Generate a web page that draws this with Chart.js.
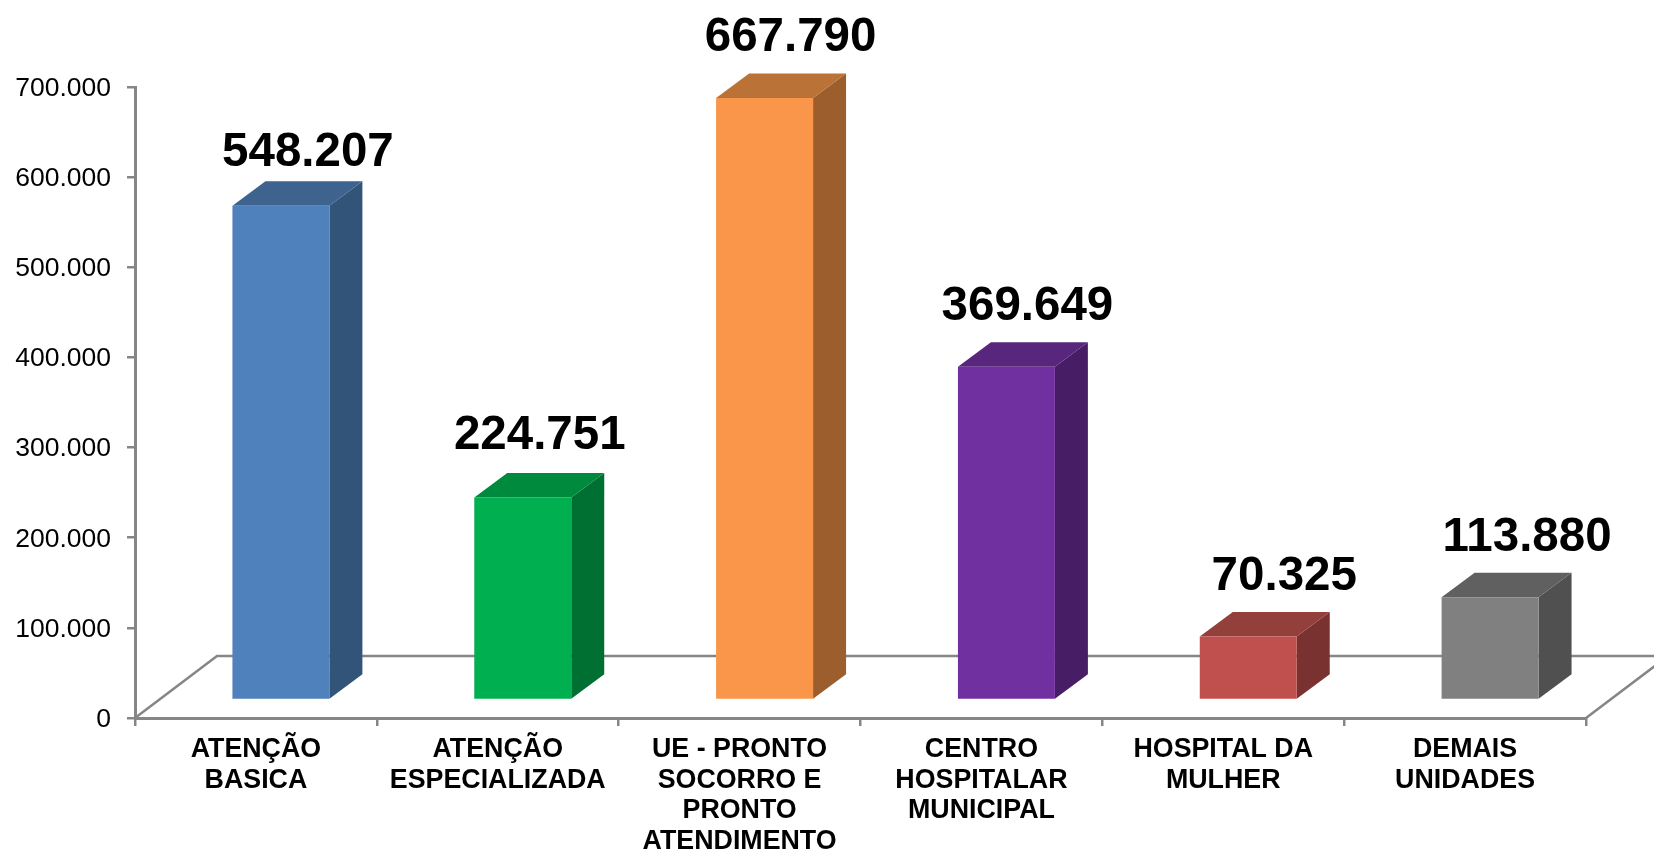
<!DOCTYPE html>
<html>
<head>
<meta charset="utf-8">
<style>
  html, body { margin: 0; padding: 0; background: #fff; }
  #wrap { width: 1654px; height: 853px; }
</style>
<script src="https://cdn.jsdelivr.net/npm/chart.js@4"></script>
</head>
<body>
<div id="wrap"><canvas id="chart"></canvas></div>
<script>
const categories = [
  ["ATENÇÃO", "BASICA"],
  ["ATENÇÃO", "ESPECIALIZADA"],
  ["UE - PRONTO", "SOCORRO E", "PRONTO", "ATENDIMENTO"],
  ["CENTRO", "HOSPITALAR", "MUNICIPAL"],
  ["HOSPITAL DA", "MULHER"],
  ["DEMAIS", "UNIDADES"]
];
const values = [548207, 224751, 667790, 369649, 70325, 113880];

// face colours of the 3D columns
const frontColors = ["#4F81BD", "#00B050", "#F9964A", "#7030A0", "#C0504D", "#808080"];
const sideColors = ["#325479", "#006F32", "#9C5E2C", "#471E65", "#7A3230", "#505050"];
const topColors = ["#3E638F", "#008A3E", "#BB7236", "#58267D", "#93403D", "#606060"];

// the value labels were placed by hand in the original
const labelShiftX = [27, 17, 26, 21, 36, 37];
const labelGapY = [39.5, 48.5, 47.5, 46.5, 46.5, 46.5];

const axisColor = "#868686";
const frontShift = { x: 25, y: -18 };  // columns stand inside the floor
const depth = { x: 33, y: -24.5 };     // column depth
const floor = { x: 82, y: -62 };

function formatThousands(v) {
  return String(v).replace(/\B(?=(\d{3})+$)/g, ".");
}

const depthPlugin = {
  id: "depth3d",
  beforeDatasetsDraw(chart) {
    const { ctx, chartArea: a } = chart;

    // floor outline
    ctx.save();
    ctx.strokeStyle = axisColor;
    ctx.lineWidth = 2.5;
    ctx.beginPath();
    ctx.moveTo(a.left, a.bottom);
    ctx.lineTo(a.left + floor.x, a.bottom + floor.y);
    ctx.lineTo(a.right + floor.x, a.bottom + floor.y);
    ctx.lineTo(a.right, a.bottom);
    ctx.stroke();
    ctx.restore();

    // side and top faces, then leave the shift on for the front faces
    ctx.save();
    ctx.translate(frontShift.x, frontShift.y);
    chart.getDatasetMeta(0).data.forEach((bar, i) => {
      const left = bar.x - bar.width / 2;
      const right = bar.x + bar.width / 2;
      ctx.fillStyle = sideColors[i];
      ctx.beginPath();
      ctx.moveTo(right, bar.y);
      ctx.lineTo(right + depth.x, bar.y + depth.y);
      ctx.lineTo(right + depth.x, bar.base + depth.y);
      ctx.lineTo(right, bar.base);
      ctx.closePath();
      ctx.fill();
      ctx.fillStyle = topColors[i];
      ctx.beginPath();
      ctx.moveTo(left, bar.y);
      ctx.lineTo(left + depth.x, bar.y + depth.y);
      ctx.lineTo(right + depth.x, bar.y + depth.y);
      ctx.lineTo(right, bar.y);
      ctx.closePath();
      ctx.fill();
    });
  },
  afterDatasetsDraw(chart) {
    const { ctx } = chart;
    ctx.restore();

    // value labels
    ctx.save();
    ctx.fillStyle = "#000";
    ctx.font = "bold 47.5px 'Liberation Sans', Arial, sans-serif";
    ctx.textAlign = "center";
    ctx.textBaseline = "alphabetic";
    chart.getDatasetMeta(0).data.forEach((bar, i) => {
      ctx.fillText(
        formatThousands(values[i]),
        bar.x + frontShift.x + labelShiftX[i],
        bar.y + frontShift.y - labelGapY[i]
      );
    });
    ctx.restore();
  }
};

new Chart(document.getElementById("chart"), {
  type: "bar",
  data: {
    labels: categories,
    datasets: [{
      data: values,
      backgroundColor: frontColors,
      borderWidth: 0,
      categoryPercentage: 1,
      barPercentage: 0.401,
      clip: false
    }]
  },
  plugins: [depthPlugin],
  options: {
    responsive: true,
    maintainAspectRatio: false,
    animation: false,
    layout: { padding: { top: 87, right: 68, left: 0, bottom: 0 } },
    plugins: {
      legend: { display: false },
      tooltip: { enabled: false },
      title: { display: false }
    },
    scales: {
      x: {
        afterFit(scale) { scale.height = 135; },
        grid: {
          drawOnChartArea: false,
          color: axisColor,
          lineWidth: 2.5,
          tickLength: 8
        },
        border: { color: axisColor, width: 3 },
        ticks: {
          color: "#000",
          maxRotation: 0,
          autoSkip: false,
          padding: 8,
          font: { family: "'Liberation Sans', Arial, sans-serif", size: 26.8, weight: "bold", lineHeight: 1.15 }
        }
      },
      y: {
        min: 0,
        max: 700000,
        afterFit(scale) { scale.width = 135; },
        grid: {
          drawOnChartArea: false,
          color: axisColor,
          lineWidth: 2.5,
          tickLength: 8
        },
        border: { color: axisColor, width: 3 },
        ticks: {
          stepSize: 100000,
          color: "#000",
          padding: 16,
          labelOffset: 1.5,
          font: { family: "'Liberation Sans', Arial, sans-serif", size: 26.5 },
          callback: (v) => formatThousands(v)
        }
      }
    }
  }
});
</script>
</body>
</html>
